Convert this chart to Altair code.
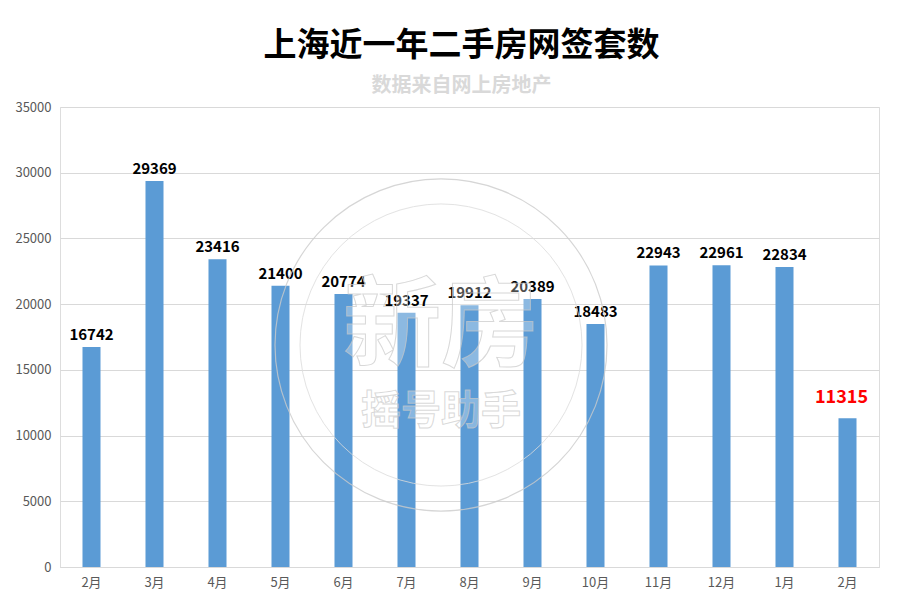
import altair as alt
import pandas as pd

months = ["2月", "3月", "4月", "5月", "6月", "7月", "8月", "9月", "10月", "11月", "12月", "1月", "2月"]
values = [16742, 29369, 23416, 21400, 20774, 19337, 19912, 20389, 18483, 22943, 22961, 22834, 11315]
highlight = [False] * 12 + [True]

df = pd.DataFrame({
    "idx": list(range(len(months))),
    "month": months,
    "value": values,
    "hl": highlight,
})

FONT = "Noto Sans CJK SC"
label_expr = "[" + ",".join("'%s'" % m for m in months) + "][datum.value]"

x_enc = alt.X("idx:O", title=None,
              scale=alt.Scale(paddingInner=0.714, paddingOuter=0.357),
              axis=alt.Axis(labelExpr=label_expr, labelAngle=0, ticks=False,
                            domainColor="#d9d9d9", labelColor="#595959",
                            labelFontSize=13, labelFont=FONT, labelPadding=9,
                            grid=False))
y_enc = alt.Y("value:Q", title=None,
              scale=alt.Scale(domain=[0, 35000]),
              axis=alt.Axis(values=list(range(0, 35001, 5000)), ticks=False, domain=False,
                            gridColor="#d9d9d9", labelColor="#595959",
                            labelFontSize=13, labelFont=FONT, labelPadding=9,
                            format="d"))

base = alt.Chart(df)

bars = base.mark_bar(color="#5B9BD5").encode(x=x_enc, y=y_enc)

labels = base.transform_filter("!datum.hl").mark_text(
    baseline="bottom", dy=-4, fontSize=15, fontWeight="bold", font=FONT, color="#000000"
).encode(x="idx:O", y="value:Q", text=alt.Text("value:Q", format="d"))

hl_label = base.transform_filter("datum.hl").mark_text(
    baseline="bottom", dy=-11, dx=-6, fontSize=18, fontWeight="bold", font=FONT, color="#FF0000"
).encode(x="idx:O", y="value:Q", text=alt.Text("value:Q", format="d"))

# faint watermark
wm_outer = alt.Chart(pd.DataFrame({"a": [0]})).mark_point(
    shape="circle", filled=False, stroke="#cccccc", strokeWidth=1.2, size=110224, opacity=0.8
).encode(x=alt.value(381), y=alt.value(238))
wm_inner = alt.Chart(pd.DataFrame({"a": [0]})).mark_point(
    shape="circle", filled=False, stroke="#dddddd", strokeWidth=1, size=79524, opacity=0.8
).encode(x=alt.value(381), y=alt.value(238))
wm_t1 = alt.Chart(pd.DataFrame({"t": ["新房"]})).mark_text(
    fontSize=98, font=FONT, fontWeight="bold", fill="#ffffff", fillOpacity=0.3,
    stroke="#c8c8c8", strokeWidth=1, strokeOpacity=0.7, baseline="middle", align="center"
).encode(x=alt.value(381), y=alt.value(222), text="t:N")
wm_t2 = alt.Chart(pd.DataFrame({"t": ["摇号助手"]})).mark_text(
    fontSize=40, font=FONT, fontWeight="bold", fill="#ffffff", fillOpacity=0.3,
    stroke="#c8c8c8", strokeWidth=1, strokeOpacity=0.7, baseline="middle", align="center"
).encode(x=alt.value(381), y=alt.value(305), text="t:N")

chart = alt.layer(bars, labels, hl_label, wm_outer, wm_inner, wm_t1, wm_t2).properties(
    width=819, height=460,
    autosize=alt.AutoSizeParams(type="none"),
    padding={"left": 52, "top": 99, "right": 11, "bottom": 35},
    title=alt.TitleParams(
        text="上海近一年二手房网签套数",
        subtitle="数据来自网上房地产",
        font=FONT, fontSize=33, fontWeight="bold", color="#000000",
        subtitleFont=FONT, subtitleFontSize=20, subtitleFontWeight="bold",
        subtitleColor="#d9d9d9", subtitlePadding=13,
        anchor="middle", frame="group", dx=-8, offset=5,
    ),
).configure_view(stroke="#6A93C6", strokeWidth=1.2).configure(background="#ffffff")

chart.save("out.html", embed_options={"renderer": "svg", "actions": False})
